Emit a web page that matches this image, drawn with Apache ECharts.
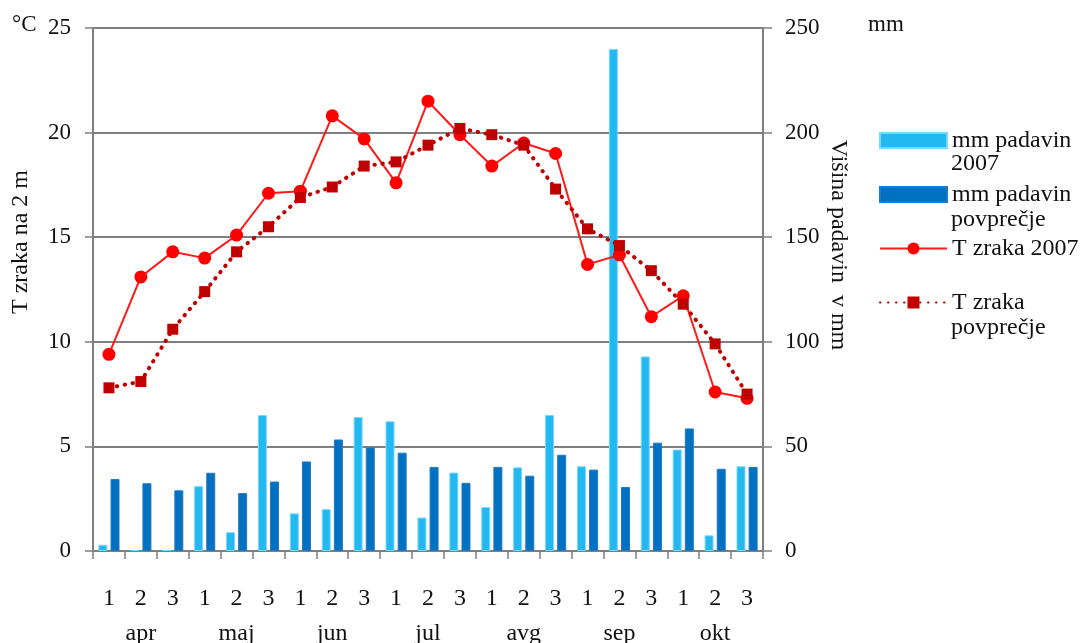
<!DOCTYPE html>
<html>
<head>
<meta charset="utf-8">
<script src="https://cdn.jsdelivr.net/npm/echarts@6/dist/echarts.min.js"></script>
<style>
html,body{margin:0;padding:0;background:#fff;}
#c{width:1089px;height:643px;}
</style>
</head>
<body>
<div id="c"></div>
<script>
const categories = ['1','2','3','1','2','3','1','2','3','1','2','3','1','2','3','1','2','3','1','2','3'];
const months = ['apr','maj','jun','jul','avg','sep','okt'];
const rain2007 = [3,0.5,0.5,31,9,65,18,20,64,62,16,37.5,21,40,65,40.5,240,93,48.5,7.5,40.5];
const rainAvg = [34.4,32.4,29,37.4,27.7,33.2,42.8,53.3,49.5,47,40.2,32.6,40.2,36,46,38.9,30.6,51.8,58.6,39.3,40.2];
const temp2007 = [9.4,13.1,14.3,14.0,15.1,17.1,17.2,20.8,19.7,17.6,21.5,19.9,18.4,19.5,19.0,13.7,14.15,11.2,12.2,7.6,7.3];
const tempAvg = [7.8,8.1,10.6,12.4,14.3,15.5,16.9,17.4,18.4,18.6,19.4,20.2,19.9,19.4,17.3,15.4,14.6,13.4,11.8,9.9,7.5];
const seriesNames = ['mm padavin 2007','mm padavin povprečje','T zraka 2007','T zraka povprečje'];
const legendFirstLines = ['mm padavin','mm padavin','T zraka 2007','T zraka'];
const legendSecondLines = ['2007','povprečje','','povprečje'];
const leftTicks = [0,5,10,15,20,25];
const rightTicks = [0,50,100,150,200,250];

const FONT = "'Liberation Serif','Times New Roman',serif";
const TXT = '#111';
const GRAY = '#7f7f7f';

const chart = echarts.init(document.getElementById('c'));
const option = {
  animation: false,
  backgroundColor: '#fff',
  grid: {left: 93, right: 326, top: 28, bottom: 92, containLabel: false, outerBoundsMode: 'none'},
  legend: {
    orient: 'vertical',
    left: 874,
    top: 122,
    itemWidth: 67,
    itemHeight: 15,
    itemGap: 27,
    selectedMode: false,
    data: [
      {name: seriesNames[0], icon: 'rect'},
      {name: seriesNames[1], icon: 'rect'},
      {name: seriesNames[2]},
      {name: seriesNames[3]}
    ],
    formatter: function (n) { return legendFirstLines[seriesNames.indexOf(n)]; },
    textStyle: {fontFamily: FONT, fontSize: 24, color: TXT, lineHeight: 27}
  },
  xAxis: [
    {
      type: 'category', data: categories, position: 'bottom',
      axisLine: {show: true, lineStyle: {color: GRAY, width: 2}},
      axisTick: {show: true, length: 8, lineStyle: {color: GRAY, width: 1.5}},
      axisLabel: {fontFamily: FONT, fontSize: 24, color: TXT, margin: 36},
      splitLine: {show: false}
    },
    {
      type: 'category', data: months, position: 'bottom',
      axisLine: {show: false}, axisTick: {show: false},
      axisLabel: {fontFamily: FONT, fontSize: 24, color: TXT, margin: 71},
      splitLine: {show: false}
    }
  ],
  yAxis: [
    {
      type: 'value', min: 0, max: 25, interval: 5, position: 'left',
      axisLine: {show: true, lineStyle: {color: GRAY, width: 2}},
      axisTick: {show: true, length: 8, lineStyle: {color: GRAY, width: 1.5}},
      axisLabel: {fontFamily: FONT, fontSize: 23, color: TXT, margin: 22,
        formatter: v => leftTicks.indexOf(v) >= 0 ? String(v) : ''},
      splitLine: {show: true, lineStyle: {color: GRAY, width: 2}}
    },
    {
      type: 'value', min: 0, max: 250, interval: 50, position: 'right',
      axisLine: {show: true, lineStyle: {color: GRAY, width: 2}},
      axisTick: {show: true, length: 9, lineStyle: {color: GRAY, width: 1.5}},
      axisLabel: {fontFamily: FONT, fontSize: 23, color: TXT, margin: 22,
        formatter: v => rightTicks.indexOf(v) >= 0 ? String(v) : ''},
      splitLine: {show: false}
    }
  ],
  series: [
    {
      name: seriesNames[0], type: 'bar', xAxisIndex: 0, yAxisIndex: 1,
      data: rain2007, barWidth: 9, barGap: '35%',
      itemStyle: {color: '#22B8F0', borderColor: '#7AD8FF', borderWidth: 1}
    },
    {
      name: seriesNames[1], type: 'bar', xAxisIndex: 0, yAxisIndex: 1,
      data: rainAvg, barWidth: 9,
      itemStyle: {color: '#0070C0', borderColor: '#1F7BC8', borderWidth: 1}
    },
    {
      name: seriesNames[2], type: 'line', xAxisIndex: 0, yAxisIndex: 0,
      data: temp2007, symbol: 'circle', symbolSize: 13,
      lineStyle: {color: '#FF1A1A', width: 2},
      itemStyle: {color: '#FF0000'}
    },
    {
      name: seriesNames[3], type: 'line', xAxisIndex: 0, yAxisIndex: 0,
      data: tempAvg, symbol: 'rect', symbolSize: 11,
      lineStyle: {color: '#C00000', width: 4, type: [0.5, 7.5], cap: 'round'},
      itemStyle: {color: '#C00000'}
    }
  ],
  graphic: [
    {type: 'text', left: 12, top: 13, style: {text: '°C', font: "23px " + FONT, fill: TXT}},
    {type: 'text', left: 868, top: 13, style: {text: 'mm', font: "23px " + FONT, fill: TXT}},
    {type: 'text', x: 21, y: 242, rotation: Math.PI / 2,
      style: {text: 'T zraka na 2 m', font: "24px " + FONT, fill: TXT, align: 'center', verticalAlign: 'middle'}},
    {type: 'text', x: 838, y: 245, rotation: -Math.PI / 2,
      style: {text: 'Višina padavin  v mm', font: "24px " + FONT, fill: TXT, align: 'center', verticalAlign: 'middle'}},
    {type: 'text', x: 951, y: 164, style: {text: legendSecondLines[0], font: "24px " + FONT, fill: TXT, verticalAlign: 'middle'}},
    {type: 'text', x: 951, y: 220, style: {text: legendSecondLines[1], font: "24px " + FONT, fill: TXT, verticalAlign: 'middle'}},
    {type: 'text', x: 951, y: 328, style: {text: legendSecondLines[3], font: "24px " + FONT, fill: TXT, verticalAlign: 'middle'}}
  ]
};
chart.setOption(option);
</script>
</body>
</html>
